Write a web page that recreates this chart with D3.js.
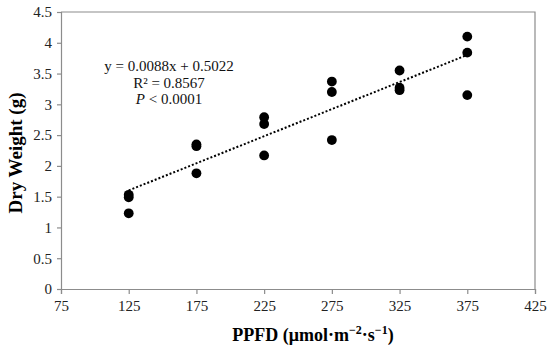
<!DOCTYPE html>
<html>
<head>
<meta charset="utf-8">
<script src="https://cdn.jsdelivr.net/npm/d3@7"></script>
<style>
  body { margin: 0; background: #fff; }
  svg text { font-family: "Liberation Serif", "Times New Roman", serif; }
</style>
</head>
<body>
<svg id="chart" width="550" height="350"></svg>
<script>
// PPFD levels and dry weight readings (3 plants per level)
const ppfd = [125, 125, 125, 175, 175, 175, 225, 225, 225, 275, 275, 275, 325, 325, 325, 375, 375, 375];
const dryWeight = [1.53, 1.49, 1.23, 2.35, 2.32, 1.88, 2.79, 2.68, 2.17, 3.37, 3.20, 2.42, 3.55, 3.27, 3.23, 4.10, 3.84, 3.15];
const xTicks = [75, 125, 175, 225, 275, 325, 375, 425];
const yTicks = [0, 0.5, 1, 1.5, 2, 2.5, 3, 3.5, 4, 4.5];
const slope = 0.0088, intercept = 0.5022;
const fitRange = [125, 375];
const eqLines = ["y = 0.0088x + 0.5022", "R² = 0.8567"];

const svg = d3.select("#chart");
const m = { left: 61, right: 535, top: 12, bottom: 289 };

const x = d3.scaleLinear().domain([75, 425]).range([m.left, m.right]);
const y = d3.scaleLinear().domain([0, 4.5]).range([m.bottom, m.top]);

// frame (top + right)
svg.append("path")
    .attr("d", `M${m.left},${m.top}H${m.right}V${m.bottom}`)
    .attr("fill", "none")
    .attr("stroke", "#8c8c8c")
    .attr("stroke-width", 1.2);

const xAxis = svg.append("g")
    .attr("transform", `translate(0,${m.bottom})`)
    .call(d3.axisBottom(x).tickValues(xTicks).tickSize(5).tickPadding(6).tickFormat(d3.format("d")));
const yAxis = svg.append("g")
    .attr("transform", `translate(${m.left},0)`)
    .call(d3.axisLeft(y).tickValues(yTicks).tickSize(4).tickPadding(5).tickFormat(d => d));

[xAxis, yAxis].forEach(a => {
    a.selectAll("path, line").attr("stroke", "#8c8c8c").attr("stroke-width", 1.2);
    a.selectAll("text")
        .attr("font-size", 15)
        .attr("fill", "#222")
        .style("font-family", '"Liberation Serif", serif');
});

// trend line
svg.append("line")
    .attr("x1", x(fitRange[0])).attr("y1", y(slope * fitRange[0] + intercept))
    .attr("x2", x(fitRange[1])).attr("y2", y(slope * fitRange[1] + intercept))
    .attr("stroke", "#000")
    .attr("stroke-width", 2)
    .attr("stroke-dasharray", "2,2");

// points
svg.append("g")
    .selectAll("circle")
    .data(ppfd.map((p, i) => ({ p, w: dryWeight[i] })))
    .join("circle")
    .attr("cx", d => x(d.p))
    .attr("cy", d => y(d.w))
    .attr("r", 4.9)
    .attr("fill", "#000");

// equation text
const eqX = 169;
const eq = svg.append("text")
    .attr("x", eqX).attr("y", 71)
    .attr("text-anchor", "middle")
    .attr("font-size", 15)
    .attr("fill", "#111");
eqLines.forEach((t, i) => {
    eq.append("tspan").attr("x", eqX).attr("dy", i === 0 ? 0 : 16.5).text(t);
});
const pl = eq.append("tspan").attr("x", eqX).attr("dy", 16.5);
pl.append("tspan").attr("font-style", "italic").text("P");
pl.append("tspan").text(" < 0.0001");

// axis titles
svg.append("text")
    .attr("transform", `translate(22,153) rotate(-90)`)
    .attr("text-anchor", "middle")
    .attr("font-size", 19)
    .attr("font-weight", "bold")
    .text("Dry Weight (g)");

const xt = svg.append("text")
    .attr("x", 313).attr("y", 341)
    .attr("text-anchor", "middle")
    .attr("font-size", 18)
    .attr("font-weight", "bold");
xt.append("tspan").text("PPFD (μmol·m");
xt.append("tspan").attr("font-size", 12).attr("dy", -7).text("−2");
xt.append("tspan").attr("dy", 7).text("·s");
xt.append("tspan").attr("font-size", 12).attr("dy", -7).text("−1");
xt.append("tspan").attr("dy", 7).text(")");
</script>
</body>
</html>
